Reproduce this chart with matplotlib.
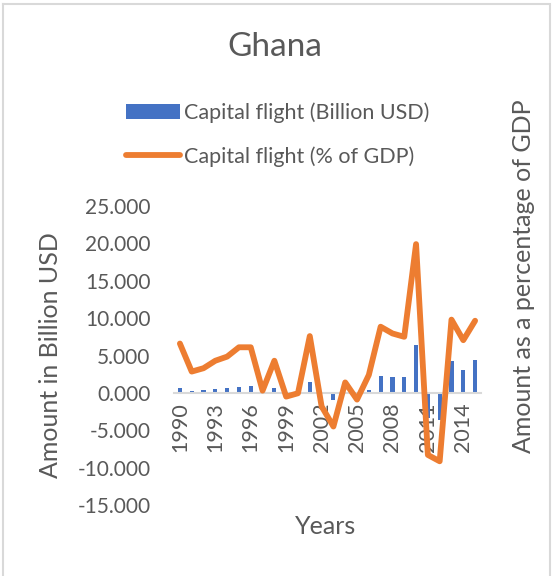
import numpy as np
import matplotlib
matplotlib.use("Agg")
import matplotlib.pyplot as plt
from matplotlib.patches import Patch
from matplotlib.lines import Line2D

# ----- data -----
years = list(range(1990, 2016))
flight_usd = [0.71, 0.27, 0.36, 0.53, 0.62, 0.84, 0.89, 0.05, 0.67, 0.0,
              0.0, 1.42, -0.1, -0.98, 0.1, 0.0, 0.45, 2.27, 2.18, 2.13,
              6.36, -3.3, -3.64, 4.2, 3.1, 4.4]
flight_gdp = [6.6, 2.85, 3.3, 4.3, 4.85, 6.1, 6.1, 0.3, 4.3, -0.5,
              -0.05, 7.6, -1.8, -4.5, 1.4, -0.9, 2.4, 8.85, 7.95, 7.5,
              19.9, -8.3, -9.15, 9.8, 7.05, 9.65]
yticks = [25, 20, 15, 10, 5, 0, -5, -10, -15]

blue = '#4472C4'
orange = '#ED7D31'
grey = '#595959'
plt.rcParams['font.family'] = ['Lato', 'DejaVu Sans']

W, H = 556, 576
fig = plt.figure(figsize=(W / 100, H / 100), dpi=100)
ax = fig.add_axes([174 / W, 1 - 505 / H, 307 / W, 299 / H])

x = np.arange(len(years))
ax.bar(x, flight_usd, width=0.35, color=blue, zorder=2)
ax.set_xlim(-0.5, len(years) - 0.5)
ax.set_ylim(-15, 25)
ax.set_yticks(yticks)
ax.set_yticklabels(['%.3f' % v for v in yticks])
ax.tick_params(axis='y', length=0, labelsize=15, labelcolor=grey, pad=17)

# category axis sits on zero
ax.spines['bottom'].set_position(('data', 0))
ax.spines['bottom'].set_color('#d9d9d9')
ax.spines['bottom'].set_linewidth(1.5)
for s in ['left', 'right', 'top']:
    ax.spines[s].set_visible(False)
ax.set_xticks(x[::3])
ax.set_xticklabels([str(y) for y in years[::3]], rotation=90)
ax.tick_params(axis='x', length=0, labelsize=15.5, labelcolor=grey, pad=7)

ax.set_ylabel('Amount in Billion USD', fontsize=18, color=grey)
ax.yaxis.set_label_coords(-0.365, 0.5)
ax.set_xlabel('Years', fontsize=18, color=grey)
ax.xaxis.set_label_coords(0.495, -0.035)

# % of GDP on secondary axis
ax2 = ax.twinx()
ax2.plot(x, flight_gdp, color=orange, lw=4.2, solid_joinstyle='round',
         solid_capstyle='round', zorder=3)
ax2.set_ylim(-15, 25)
ax2.set_yticks([])
for s in ['left', 'right', 'top', 'bottom']:
    ax2.spines[s].set_visible(False)
ax2.set_ylabel('Amount as a percentage of GDP', fontsize=18, color=grey)
ax2.yaxis.set_label_coords(1.1, 0.766)

fig.text(275 / W, 1 - 47 / H, 'Ghana', fontsize=24, color=grey,
         ha='center', va='center')

handles = [Patch(facecolor=blue, edgecolor='none'),
           Line2D([0], [0], color=orange, lw=4.2, solid_capstyle='round')]
fig.legend(handles, ['Capital flight (Billion USD)', 'Capital flight (% of GDP)'],
           loc='upper left', bbox_to_anchor=(126 / W, 1 - 102 / H),
           frameon=False, fontsize=15.5, labelcolor=grey, handlelength=2.5,
           handletextpad=0.2, labelspacing=1.1, borderpad=0, borderaxespad=0)

# chart border
fig.add_artist(Line2D([3 / W, 3 / W], [0, 1 - 4 / H], color='#d9d9d9', lw=1.5))
fig.add_artist(Line2D([3 / W, 550 / W], [1 - 4 / H, 1 - 4 / H], color='#d9d9d9', lw=1.5))
fig.add_artist(Line2D([550 / W, 550 / W], [0, 1 - 6 / H], color='#d9d9d9', lw=1.5))

fig.savefig('out.png', dpi=100)
